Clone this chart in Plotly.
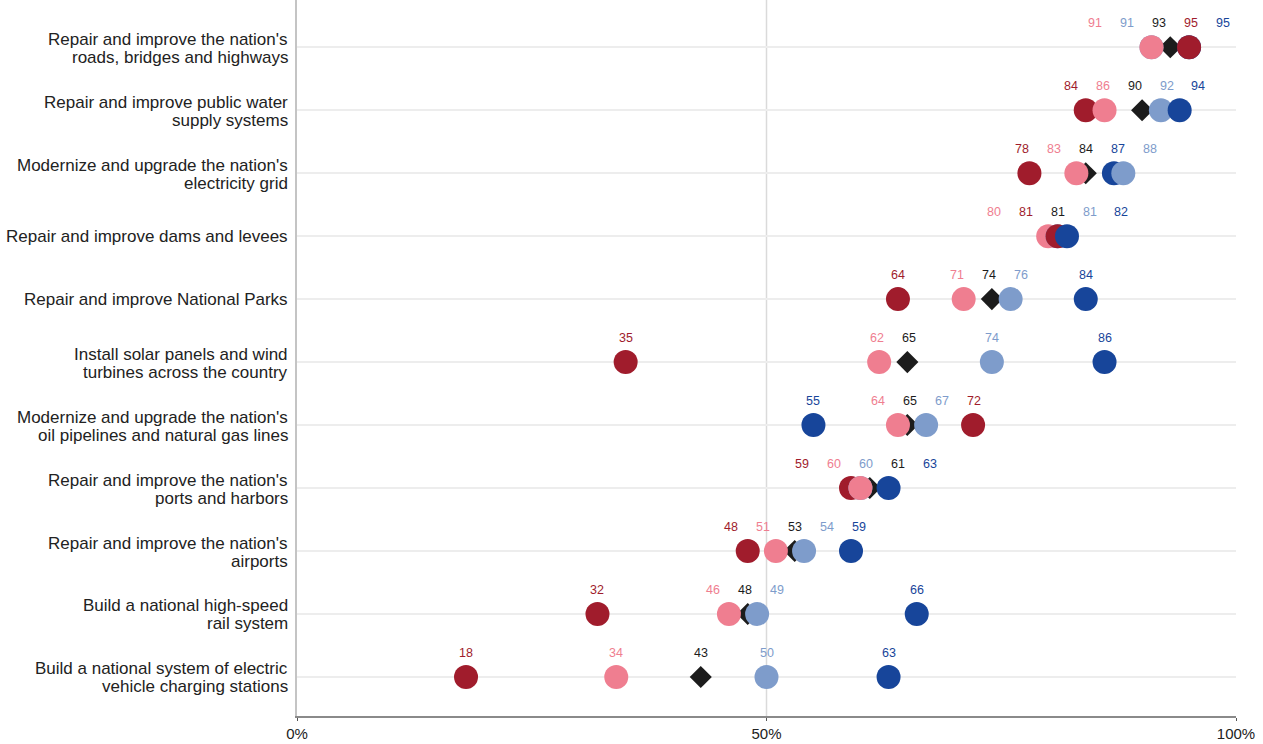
import plotly.graph_objects as go

categories = [
    "Repair and improve the nation's<br>roads, bridges and highways",
    "Repair and improve public water<br>supply systems",
    "Modernize and upgrade the nation's<br>electricity grid",
    "Repair and improve dams and levees",
    "Repair and improve National Parks",
    "Install solar panels and wind<br>turbines across the country",
    "Modernize and upgrade the nation's<br>oil pipelines and natural gas lines",
    "Repair and improve the nation's<br>ports and harbors",
    "Repair and improve the nation's<br>airports",
    "Build a national high-speed<br>rail system",
    "Build a national system of electric<br>vehicle charging stations",
]

strong_rep = [95, 84, 78, 81, 64, 35, 72, 59, 48, 32, 18]
rep = [91, 86, 83, 80, 71, 62, 64, 60, 51, 46, 34]
total = [93, 90, 84, 81, 74, 65, 65, 61, 53, 48, 43]
dem = [91, 92, 88, 81, 76, 74, 67, 60, 54, 49, 50]
strong_dem = [95, 94, 87, 82, 84, 86, 55, 63, 59, 66, 63]

x_ticks = [0, 50, 100]
x_tick_text = ['0%', '50%', '100%']

DARK_RED = '#a01c2c'
PINK = '#ef7e90'
BLACK = '#1c1c1c'
LIGHT_BLUE = '#7e9ccb'
DARK_BLUE = '#17459a'

# (values, colour, stacking rank for ties: higher sits on top)
series = [
    (strong_rep, DARK_RED, 3),
    (rep, PINK, 2),
    (total, BLACK, -1),
    (dem, LIGHT_BLUE, 1),
    (strong_dem, DARK_BLUE, 0),
]

n = len(categories)
ypos = [n - 1 - i for i in range(n)]  # top row first


def spread_labels(vals, gap=3.4, hi=98.6):
    """Push sorted label positions apart so they don't overlap."""
    clusters = [[v] for v in vals]
    merged = True
    while merged:
        merged = False
        out = []
        for c in clusters:
            if out:
                prev = out[-1]
                pc = sum(prev) / len(prev)
                cc = sum(c) / len(c)
                prev_end = pc + gap * (len(prev) - 1) / 2
                cur_start = cc - gap * (len(c) - 1) / 2
                if cur_start - prev_end < gap:
                    out[-1] = prev + c
                    merged = True
                    continue
            out.append(c)
        clusters = out
    pos = []
    for c in clusters:
        m = sum(c) / len(c)
        start = m - gap * (len(c) - 1) / 2
        pos += [start + gap * k for k in range(len(c))]
    shift = max(0, pos[-1] - hi)
    return [p - shift for p in pos]


fig = go.Figure()

# Total (diamonds) underneath everything
fig.add_trace(go.Scatter(
    x=total, y=ypos, mode='markers',
    marker=dict(symbol='diamond', size=17, color=BLACK),
    hoverinfo='skip', showlegend=False,
))

# Circles, drawn in order of value per row so higher values sit on top
cx, cy, cc = [], [], []
annotations = []
for i in range(n):
    pts = [(vals[i], col, rank) for vals, col, rank in series]
    circles = sorted([p for p in pts if p[1] != BLACK], key=lambda p: (p[0], p[2]))
    for v, col, _ in circles:
        cx.append(v)
        cy.append(ypos[i])
        cc.append(col)

    ordered = sorted(pts, key=lambda p: p[0])
    label_x = spread_labels([p[0] for p in ordered])
    for (v, col, _), lx in zip(ordered, label_x):
        annotations.append(dict(
            x=lx, y=ypos[i], text=str(v), showarrow=False, yshift=24,
            font=dict(size=12.5, color=col),
        ))

    # category label, one annotation per line for a tighter line spacing
    lines = categories[i].split('<br>')
    shifts = [8, -10] if len(lines) == 2 else [0]
    for line, ys in zip(lines, shifts):
        annotations.append(dict(
            x=0, xref='paper', xanchor='right', xshift=-7,
            y=ypos[i], yshift=ys, text=line, showarrow=False,
            font=dict(size=17, color='#222222'),
        ))

fig.add_trace(go.Scatter(
    x=cx, y=cy, mode='markers',
    marker=dict(size=24, color=cc),
    hoverinfo='skip', showlegend=False,
))

fig.add_shape(type='line', x0=50, x1=50, y0=0, y1=1, xref='x', yref='paper',
              line=dict(color='#dadada', width=1.5), layer='below')

fig.update_layout(
    width=1263, height=744,
    margin=dict(l=297, r=27, t=0, b=28),
    paper_bgcolor='white', plot_bgcolor='white',
    font=dict(family='Liberation Sans, Arial, sans-serif', color='#333333'),
    annotations=annotations,
    xaxis=dict(
        range=[0, 100], tickvals=x_ticks, ticktext=x_tick_text,
        showgrid=False, zeroline=False,
        showline=True, linecolor='#8a8a8a', linewidth=1.5,
        ticks='outside', ticklen=3, tickcolor='#555555',
        tickfont=dict(size=15, color='#222222'),
    ),
    yaxis=dict(
        range=[-0.62, n - 1 + 0.75], tickvals=ypos, showticklabels=False,
        showgrid=True, gridcolor='#ededed', gridwidth=1.5,
        zeroline=False, showline=True, linecolor='#c4c4c4', linewidth=1.5,
        ticks='',
    ),
)

# drop the page's default body margin so the figure sits at the window's corner
fig.write_html("out.html", config={'displayModeBar': False},
               post_script="document.body.style.margin = '0';")
